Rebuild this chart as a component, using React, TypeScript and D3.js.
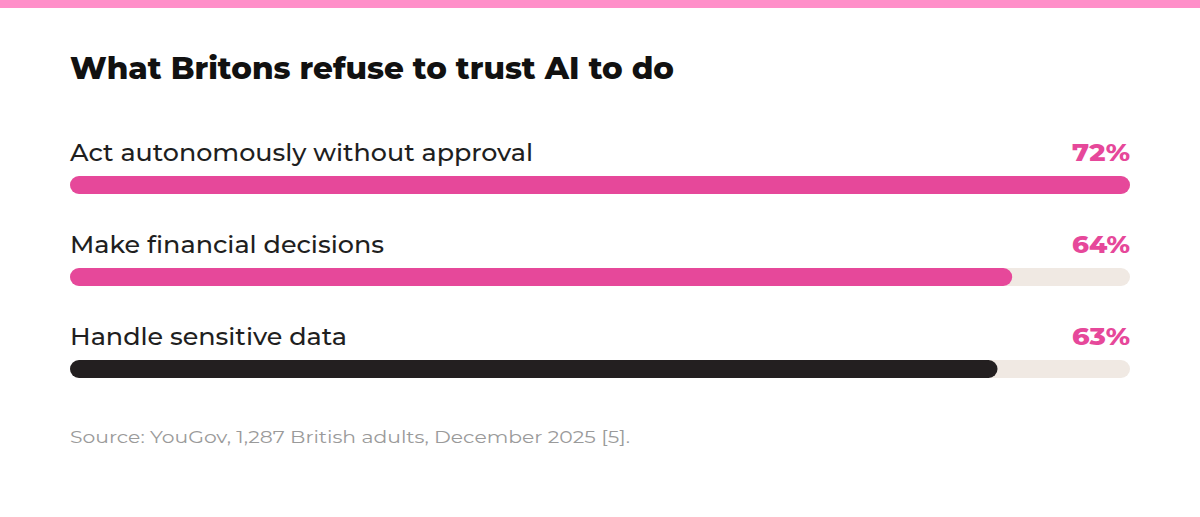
import React from "react";
import * as d3 from "d3";

const title = "What Britons refuse to trust AI to do";
const categories = ["Act autonomously without approval", "Make financial decisions", "Handle sensitive data"];
const values = [72, 64, 63];
const barColors = ["#e6489a", "#e6489a", "#231f20"];
const source = "Source: YouGov, 1,287 British adults, December 2025 [5].";

const W = 1200;
const H = 517;
const left = 70;
const right = 1130;
const labelWidths = [463, 314, 277];

export default function App() {
  const x = d3.scaleLinear().domain([0, d3.max(values) as number]).range([left, right]);
  const y = d3.scaleBand<number>().domain(d3.range(categories.length)).range([130, 406]).paddingInner(0);
  const font = "Montserrat, Inter, 'Open Sans', sans-serif";
  return (
    <div style={{ position: "absolute", left: 0, top: 0 }}>
      <svg width={W} height={H} style={{ display: "block", background: "#ffffff" }}>
        <rect x={0} y={0} width={W} height={8} fill="#ff8fc9" />
        <text x={left} y={79} fontFamily={font} fontWeight={800} fontSize={30} fill="#111111"
          textLength={604} lengthAdjust="spacingAndGlyphs">{title}</text>
        {categories.map((c, i) => {
          const top = y(i) as number;
          return (
            <g key={c}>
              <text x={left} y={top + 31} fontFamily={font} fontWeight={500} fontSize={23.5} fill="#1f1f1f"
                textLength={labelWidths[i]} lengthAdjust="spacingAndGlyphs">{c}</text>
              <text x={right} y={top + 31} textAnchor="end" fontFamily={font} fontWeight={800} fontSize={24} fill="#e6489a"
                textLength={58} lengthAdjust="spacingAndGlyphs">{values[i]}%</text>
              <rect x={left} y={top + 46} width={right - left} height={18} rx={9} fill="#f0e9e3" />
              <rect x={left} y={top + 46} width={x(values[i]) - left} height={18} rx={9} fill={barColors[i]} />
            </g>
          );
        })}
        <text x={left} y={443} fontFamily={font} fontWeight={400} fontSize={17.5} fill="#9a9a9a"
          textLength={560} lengthAdjust="spacingAndGlyphs">{source}</text>
      </svg>
    </div>
  );
}
